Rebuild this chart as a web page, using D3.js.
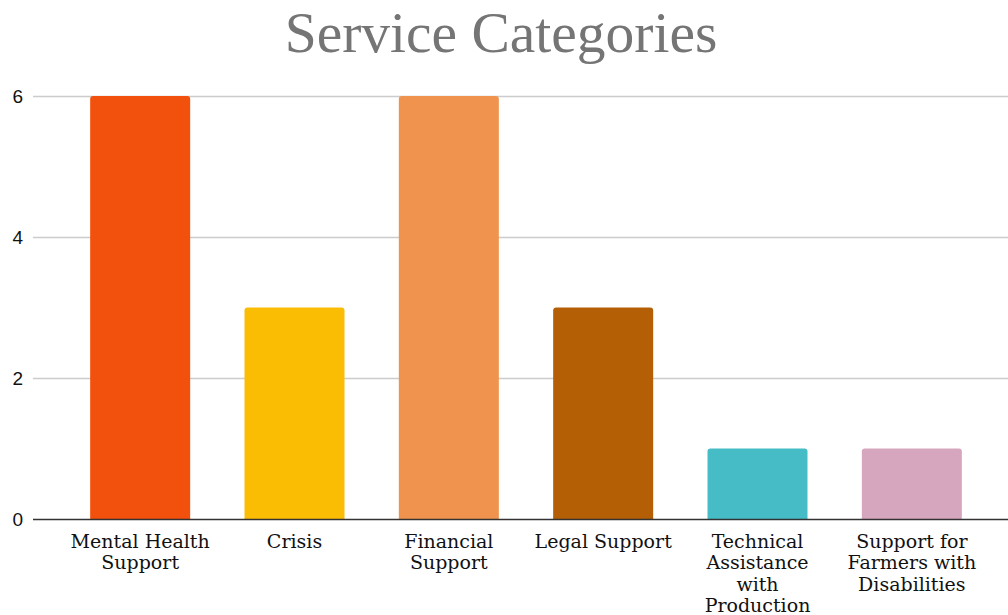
<!DOCTYPE html>
<html>
<head>
<meta charset="utf-8">
<script src="https://cdn.jsdelivr.net/npm/d3@7"></script>
<style>
  html, body { margin: 0; padding: 0; background: #fff; }
  svg { display: block; }
</style>
</head>
<body>
<svg id="chart" width="1008" height="615"></svg>
<script>
const categories = [
  ["Mental Health", "Support"],
  ["Crisis"],
  ["Financial", "Support"],
  ["Legal Support"],
  ["Technical", "Assistance", "with", "Production"],
  ["Support for", "Farmers with", "Disabilities"]
];
const values = [6, 3, 6, 3, 1, 1];
const colors = ["#F2510D", "#FBBC04", "#F0934E", "#B45F06", "#46BDC6", "#D5A6BD"];
const yTicks = [0, 2, 4, 6];
const title = "Service Categories";

const svg = d3.select("#chart");
const plotLeft = 33, plotRight = 1008, plotTop = 96, plotBottom = 519;

const keys = categories.map((c, i) => "c" + i);
const x = d3.scaleBand().domain(keys).range([63, 989]).paddingInner(0.352).paddingOuter(0.176);
const y = d3.scaleLinear().domain([0, 6]).range([plotBottom, plotTop]);

svg.append("text")
  .attr("x", 501).attr("y", 51.5)
  .attr("text-anchor", "middle")
  .attr("font-family", "'Liberation Serif', 'Times New Roman', serif")
  .attr("font-size", 57.5)
  .attr("fill", "#757575")
  .text(title);

// gridlines
svg.append("g").selectAll("line").data(yTicks.filter(t => t !== 0)).join("line")
  .attr("x1", plotLeft).attr("x2", plotRight)
  .attr("y1", d => y(d) + 0.5).attr("y2", d => y(d) + 0.5)
  .attr("stroke", "#cccccc").attr("stroke-width", 1.3);

// y labels
svg.append("g").selectAll("text").data(yTicks).join("text")
  .attr("x", 23).attr("y", d => y(d))
  .attr("dy", "0.36em")
  .attr("text-anchor", "end")
  .attr("font-family", "'Liberation Sans', Arial, sans-serif")
  .attr("font-size", 19)
  .attr("fill", "#111")
  .text(d => d);

// bars with rounded top corners
const r = 3;
svg.append("g").selectAll("path").data(values).join("path")
  .attr("fill", (d, i) => colors[i])
  .attr("d", (d, i) => {
    const x0 = x(keys[i]), w = x.bandwidth();
    const yt = y(d), yb = y(0);
    return `M${x0},${yb}V${yt + r}Q${x0},${yt} ${x0 + r},${yt}H${x0 + w - r}Q${x0 + w},${yt} ${x0 + w},${yt + r}V${yb}Z`;
  });

// baseline
svg.append("line")
  .attr("x1", plotLeft).attr("x2", plotRight)
  .attr("y1", plotBottom + 0.5).attr("y2", plotBottom + 0.5)
  .attr("stroke", "#333").attr("stroke-width", 1.5);

// category labels
const lab = svg.append("g").selectAll("text").data(categories).join("text")
  .attr("text-anchor", "middle")
  .attr("font-family", "'DejaVu Serif', Georgia, serif")
  .attr("font-size", 19)
  .attr("fill", "#111")
  .attr("transform", (d, i) => `translate(${x(keys[i]) + x.bandwidth() / 2},548)`);
lab.selectAll("tspan").data(d => d).join("tspan")
  .attr("x", 0)
  .attr("y", (d, j) => j * 21.3)
  .text(d => d);
</script>
</body>
</html>
